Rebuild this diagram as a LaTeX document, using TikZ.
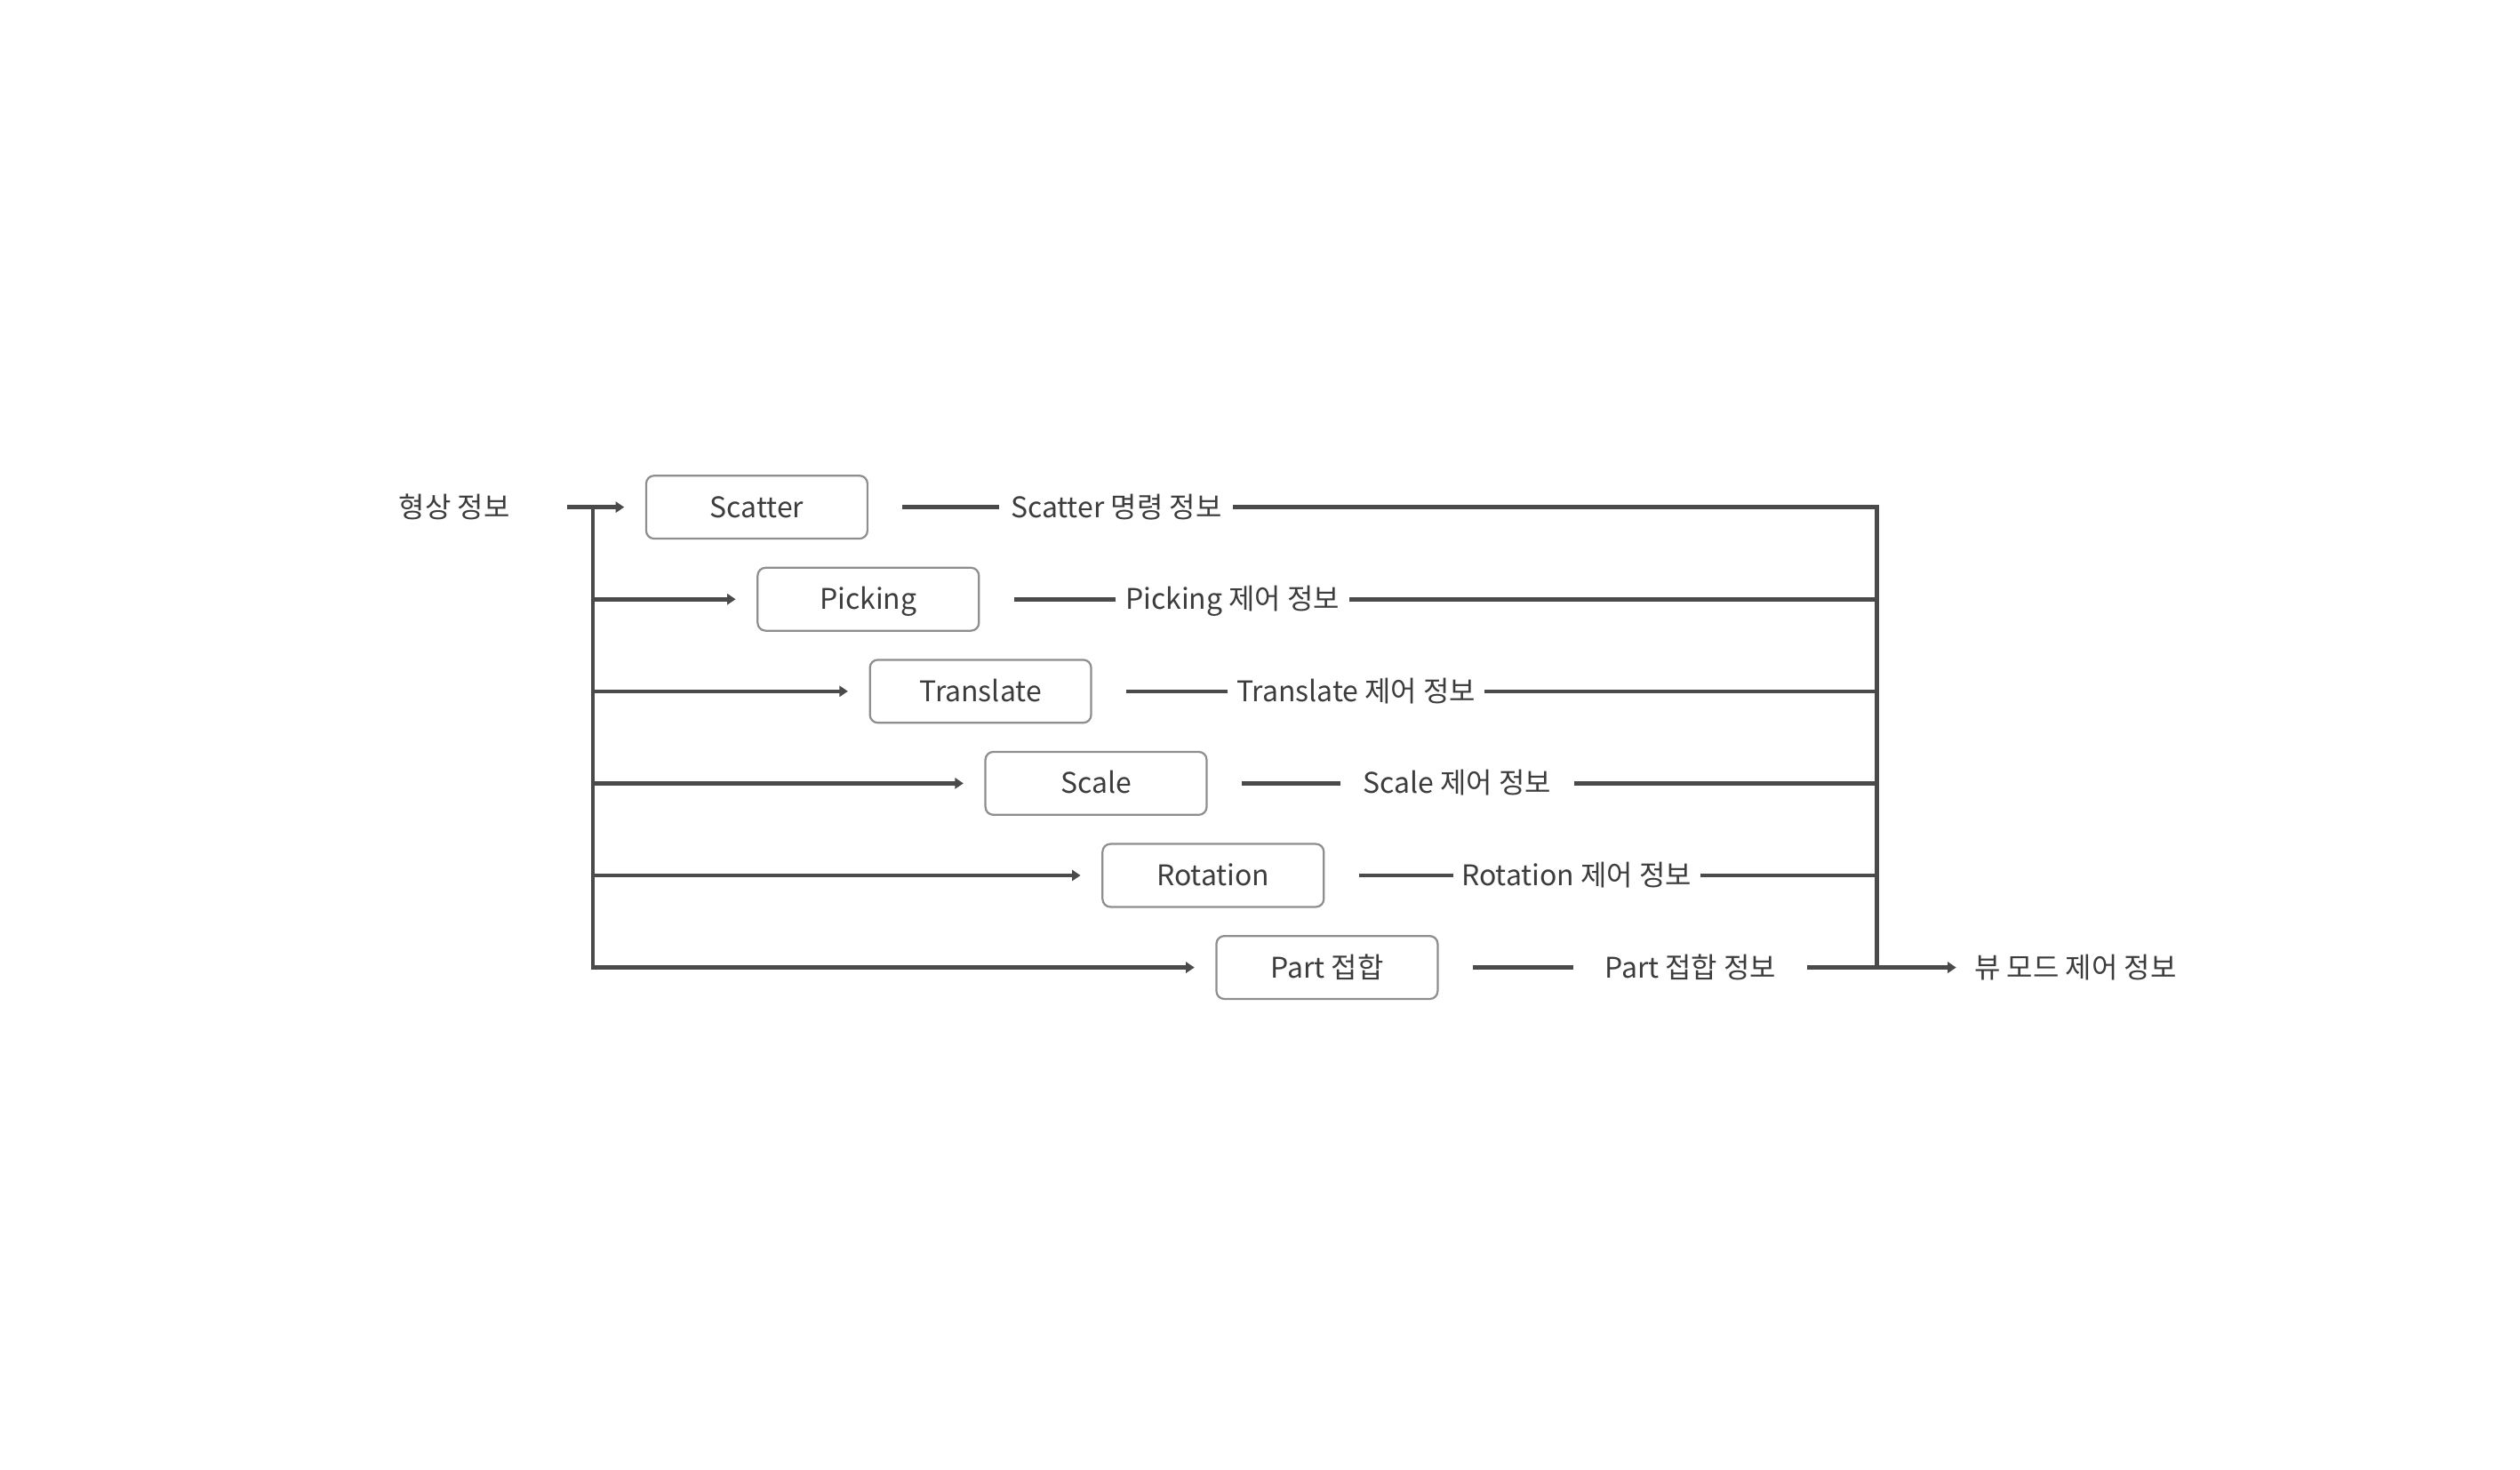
\documentclass[tikz,border=0pt]{standalone}
\usepackage{fontspec}
\setmainfont{Noto Sans CJK KR}
\usepackage{xcolor}
\usepackage{tikz}
\usetikzlibrary{arrows.meta}
\definecolor{linegray}{HTML}{4A4A4A}
\definecolor{boxgray}{HTML}{8E8E8E}
\definecolor{textgray}{HTML}{3C3C3C}

\begin{document}
\begin{tikzpicture}[x=0.02cm, y=-0.02cm]
	\tikzstyle{every node}=[font=\fontsize{10}{12}\selectfont, text=textgray, text height=0.8em, text depth=0.08em]
	\tikzstyle{blk}=[draw=boxgray, line width=0.7pt, rounded corners=2.8pt, minimum width=2.74cm, minimum height=0.78cm, inner sep=0pt]
	\tikzstyle{info}=[minimum width=2.88cm, inner xsep=0.1cm, inner ysep=0pt]
	\tikzstyle{lbl}=[inner sep=0pt]
	\tikzstyle{line}=[draw=linegray, line width=1.45pt]
	\tikzstyle{arr}=[line, -{Triangle[length=3pt,width=3.8pt]}, shorten >=0.26cm]
	\useasboundingbox (0,0) rectangle (1560,910);
		\node [lbl, anchor=east] (src) at (316,314) {형상 정보};
		\coordinate (in) at (351,314);
		\coordinate (fork) at (367,314);
		\coordinate (merge) at (1162,314);
		\node [blk] (scatter) at (468.5,314) {Scatter};
		\node [blk] (picking) at (537.5,371) {Picking};
		\node [blk] (translate) at (607,428) {Translate};
		\node [blk] (scale) at (678.5,485) {Scale};
		\node [blk] (rotation) at (751,542) {Rotation};
		\node [blk] (part) at (821.5,599) {Part 접합};
		\node [info] (scatterinfo) at (691,314) {Scatter 명령 정보};
		\node [info] (pickinginfo) at (763,371) {Picking 제어 정보};
		\node [info] (translateinfo) at (839.5,428) {Translate 제어 정보};
		\node [info] (scaleinfo) at (902,485) {Scale 제어 정보};
		\node [info] (rotationinfo) at (976,542) {Rotation 제어 정보};
		\node [info] (partinfo) at (1046.5,599) {Part 접합 정보};
		\node [lbl, anchor=west] (out) at (1222,599) {뷰 모드 제어 정보};
		% input side
		\draw [arr] (in) -- (scatter);
		\draw [arr] (fork) |- (part);
		\draw [arr] (fork |- picking) -- (picking);
		\draw [arr] (fork |- translate) -- (translate);
		\draw [arr] (fork |- scale) -- (scale);
		\draw [arr] (fork |- rotation) -- (rotation);
		% boxes to info
		\draw [line, shorten <=0.42cm] (scatter) -- (scatterinfo);
		\draw [line, shorten <=0.42cm] (picking) -- (pickinginfo);
		\draw [line, shorten <=0.42cm] (translate) -- (translateinfo);
		\draw [line, shorten <=0.42cm] (scale) -- (scaleinfo);
		\draw [line, shorten <=0.42cm] (rotation) -- (rotationinfo);
		\draw [line, shorten <=0.42cm] (part) -- (partinfo);
		% output side
		\draw [line] (scatterinfo) -- (merge) -- (merge |- partinfo);
		\draw [line] (pickinginfo) -- (pickinginfo -| merge);
		\draw [line] (translateinfo) -- (translateinfo -| merge);
		\draw [line] (scaleinfo) -- (scaleinfo -| merge);
		\draw [line] (rotationinfo) -- (rotationinfo -| merge);
		\draw [arr, shorten >=0.22cm] (partinfo) -- (out);
	\end{tikzpicture}
\end{document}
